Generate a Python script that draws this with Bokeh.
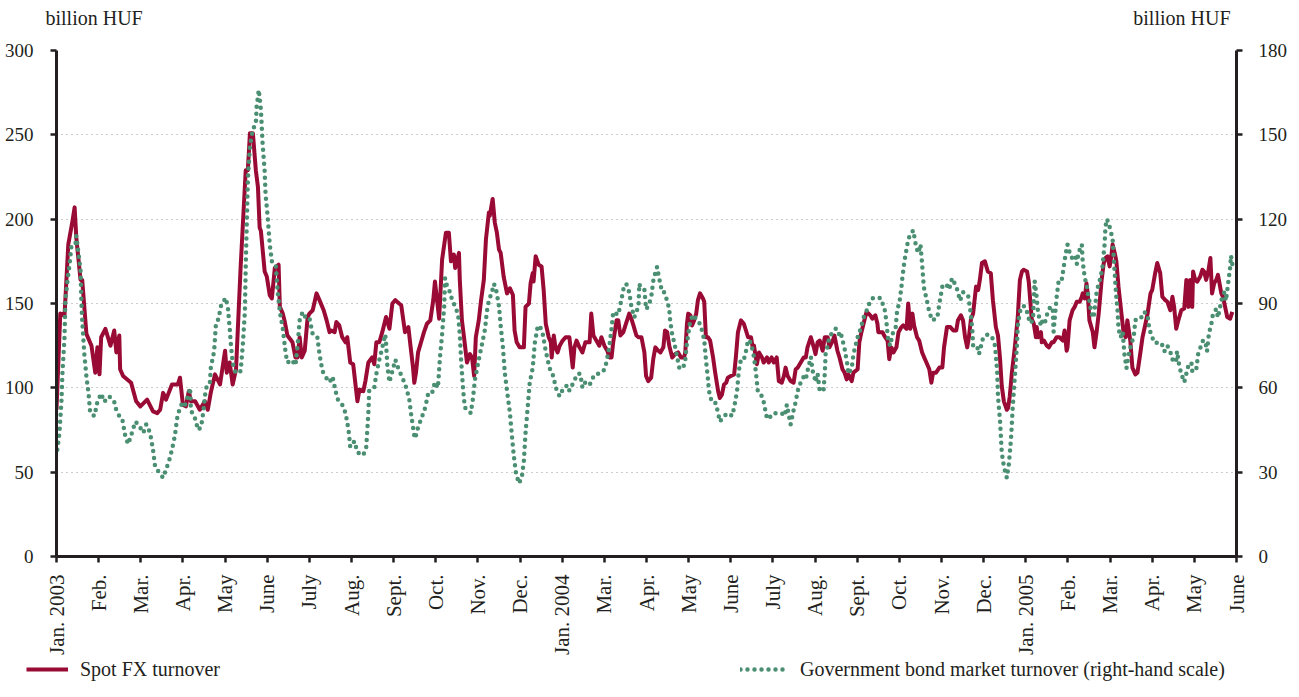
import math
from bokeh.plotting import figure
from bokeh.layouts import column
from bokeh.models import (Range1d, LinearAxis, FixedTicker, Legend, LegendItem, Label)
from bokeh.embed import file_html
from bokeh.resources import INLINE

# x positions are in months since the start of January 2003 (tick i = i-th month label)
month_labels = ["Jan. 2003", "Feb.", "Mar.", "Apr.", "May", "June", "July", "Aug.", "Sept.",
                "Oct.", "Nov.", "Dec.", "Jan. 2004", "Mar.", "Apr.", "May", "June", "July",
                "Aug.", "Sept.", "Oct.", "Nov.", "Dec.", "Jan. 2005", "Feb.", "Mar.", "Apr.",
                "May", "June"]
left_ticks = [0, 50, 100, 150, 200, 250, 300]
right_ticks = [0, 30, 60, 90, 120, 150, 180]
unit_text = "billion HUF"
fx_name = "Spot FX turnover"
bond_name = "Government bond market turnover (right-hand scale)"

fx_month = [0.00, 0.09, 0.19, 0.28, 0.38, 0.43, 0.47, 0.57, 0.61, 0.71, 0.83, 0.92, 0.97, 1.02, 1.06, 1.16,
            1.28, 1.37, 1.42, 1.49, 1.51, 1.58, 1.77, 1.89, 1.99, 2.15, 2.29, 2.39, 2.46, 2.53, 2.60, 2.74,
            2.88, 2.93, 3.00, 3.07, 3.14, 3.19, 3.29, 3.40, 3.52, 3.59, 3.66, 3.76, 3.88, 4.00, 4.04, 4.11,
            4.18, 4.26, 4.37, 4.49, 4.54, 4.59, 4.66, 4.73, 4.78, 4.82, 4.85, 4.94, 4.99, 5.06, 5.11, 5.18,
            5.27, 5.30, 5.37, 5.41, 5.48, 5.60, 5.67, 5.72, 5.77, 5.82, 5.89, 5.96, 6.00, 6.08, 6.17, 6.24,
            6.34, 6.41, 6.48, 6.52, 6.60, 6.64, 6.71, 6.78, 6.86, 6.90, 6.97, 7.04, 7.14, 7.19, 7.28, 7.33,
            7.40, 7.49, 7.54, 7.59, 7.66, 7.73, 7.82, 7.90, 7.97, 8.04, 8.13, 8.18, 8.27, 8.35, 8.39, 8.46,
            8.49, 8.53, 8.58, 8.65, 8.72, 8.79, 8.87, 8.94, 8.98, 9.03, 9.08, 9.15, 9.24, 9.31, 9.36, 9.43,
            9.46, 9.55, 9.57, 9.62, 9.67, 9.74, 9.81, 9.86, 9.91, 9.95, 10.02, 10.07, 10.14, 10.19, 10.26,
            10.28, 10.35, 10.40, 10.45, 10.50, 10.54, 10.61, 10.69, 10.76, 10.83, 10.87, 10.92, 10.99,
            11.09, 11.13, 11.21, 11.25, 11.30, 11.32, 11.37, 11.44, 11.51, 11.56, 11.61, 11.68, 11.73,
            11.75, 11.80, 11.84, 11.89, 11.94, 12.01, 12.08, 12.17, 12.25, 12.29, 12.34, 12.41, 12.48,
            12.55, 12.65, 12.69, 12.74, 12.81, 12.88, 12.93, 13.00, 13.07, 13.12, 13.17, 13.21, 13.29,
            13.33, 13.38, 13.45, 13.50, 13.59, 13.64, 13.69, 13.76, 13.81, 13.88, 13.95, 13.99, 14.04,
            14.11, 14.16, 14.21, 14.28, 14.33, 14.40, 14.44, 14.49, 14.54, 14.61, 14.68, 14.75, 14.82,
            14.89, 14.92, 14.96, 14.99, 15.04, 15.08, 15.13, 15.18, 15.22, 15.27, 15.34, 15.37, 15.41,
            15.46, 15.51, 15.58, 15.63, 15.70, 15.74, 15.79, 15.84, 15.89, 15.93, 16.00, 16.08, 16.12,
            16.17, 16.24, 16.31, 16.36, 16.41, 16.48, 16.52, 16.55, 16.62, 16.67, 16.74, 16.78, 16.86,
            16.90, 16.97, 17.02, 17.09, 17.14, 17.21, 17.26, 17.30, 17.35, 17.42, 17.49, 17.54, 17.59,
            17.66, 17.73, 17.78, 17.82, 17.90, 17.97, 18.01, 18.06, 18.11, 18.18, 18.23, 18.30, 18.34,
            18.42, 18.46, 18.53, 18.58, 18.65, 18.70, 18.75, 18.79, 18.87, 18.91, 19.01, 19.05, 19.10,
            19.15, 19.22, 19.27, 19.31, 19.36, 19.43, 19.48, 19.50, 19.60, 19.64, 19.72, 19.76, 19.81,
            19.86, 19.93, 19.98, 20.05, 20.09, 20.17, 20.21, 20.26, 20.31, 20.35, 20.42, 20.47, 20.54,
            20.59, 20.66, 20.71, 20.76, 20.80, 20.87, 20.95, 21.02, 21.06, 21.13, 21.21, 21.28, 21.35,
            21.39, 21.46, 21.51, 21.56, 21.61, 21.65, 21.70, 21.75, 21.82, 21.87, 21.91, 21.96, 22.03,
            22.10, 22.17, 22.22, 22.29, 22.34, 22.39, 22.43, 22.48, 22.55, 22.58, 22.62, 22.67, 22.74,
            22.81, 22.86, 22.91, 22.95, 23.03, 23.07, 23.14, 23.19, 23.24, 23.26, 23.29, 23.36, 23.38,
            23.43, 23.50, 23.55, 23.62, 23.66, 23.73, 23.80, 23.88, 23.92, 23.97, 23.99, 24.04, 24.11,
            24.16, 24.21, 24.28, 24.33, 24.35, 24.40, 24.44, 24.47, 24.51, 24.59, 24.63, 24.68, 24.73,
            24.80, 24.85, 24.89, 24.94, 24.99, 25.03, 25.06, 25.11, 25.15, 25.20, 25.27, 25.32, 25.37,
            25.41, 25.48, 25.53, 25.60, 25.65, 25.72, 25.77, 25.84, 25.89, 25.96, 26.00, 26.07, 26.12,
            26.19, 26.24, 26.31, 26.36, 26.43, 26.48, 26.52, 26.57, 26.62, 26.69, 26.76, 26.81, 26.86,
            26.90, 26.95, 26.97, 27.02, 27.07, 27.14, 27.19, 27.23, 27.28, 27.33, 27.38, 27.42, 27.47,
            27.52, 27.56, 27.64, 27.68, 27.73, 27.78, 27.85, 27.90]
fx_value = [87, 144, 143, 185, 199, 207, 189, 164, 164, 132, 125, 109, 124, 108, 130, 135,
            125, 134, 121, 131, 111, 107, 103, 92, 89, 93, 86, 85, 87, 97, 93, 102,
            102, 106, 90, 89, 98, 92, 92, 87, 92, 87, 97, 108, 102, 122, 109, 115,
            102, 111, 172, 229, 229, 251, 251, 229, 219, 195, 193, 169, 166, 155, 153, 171,
            173, 148, 144, 140, 131, 127, 118, 118, 130, 118, 122, 142, 144, 146, 156, 152,
            146, 140, 133, 134, 133, 139, 137, 130, 127, 130, 115, 114, 92, 99, 98, 104,
            115, 118, 114, 127, 127, 133, 142, 135, 150, 152, 150, 149, 133, 136, 127, 112,
            103, 109, 121, 127, 133, 138, 140, 152, 163, 152, 141, 176, 192, 192, 175, 179,
            171, 180, 164, 140, 130, 115, 120, 118, 107, 130, 140, 151, 164, 188, 204,
            202, 212, 198, 192, 182, 180, 166, 156, 159, 155, 134, 127, 124,
            124, 148, 150, 162, 168, 163, 178, 173, 172, 158, 138, 130, 127,
            118, 131, 124, 121, 125, 128, 130, 130, 112, 124, 128, 124, 121,
            127, 127, 144, 131, 128, 125, 130, 125, 122, 118, 118, 127, 140,
            140, 131, 133, 137, 144, 141, 137, 131, 130, 130, 121, 107, 104,
            106, 117, 124, 122, 121, 124, 134, 133, 125, 118, 120, 121, 118,
            118, 121, 138, 144, 143, 137, 140, 144, 152, 156, 153, 151, 130,
            130, 128, 118, 109, 98, 94, 96, 102, 103, 106, 107, 108, 118,
            133, 140, 138, 134, 130, 130, 124, 125, 114, 121, 118, 115, 118,
            115, 118, 115, 118, 104, 103, 107, 112, 107, 104, 103, 111, 112,
            115, 118, 118, 124, 130, 124, 120, 127, 128, 122, 130, 130, 124,
            128, 131, 122, 118, 111, 109, 105, 108, 104, 109, 111, 127, 133,
            138, 145, 144, 143, 141, 143, 138, 133, 133, 131, 128, 117, 124,
            121, 124, 133, 136, 137, 135, 150, 135, 144, 137, 130, 128, 121,
            118, 114, 111, 103, 109, 109, 112, 112, 124, 136, 136, 134, 134,
            140, 143, 140, 130, 124, 130, 141, 144, 160, 158, 164, 174, 175,
            169, 168, 152, 136, 131, 117, 101, 92, 87, 88, 95, 109, 124,
            142, 164, 169, 170, 169, 163, 141, 138, 130, 136, 130, 133, 127,
            128, 125, 124, 127, 127, 130, 130, 128, 134, 122, 124, 140, 146,
            148, 151, 151, 154, 156, 153, 162, 156, 140, 133, 124, 133, 144,
            164, 174, 177, 178, 172, 178, 185, 180, 175, 160, 144, 133, 130,
            140, 128, 112, 108, 109, 121, 130, 138, 144, 156, 158, 168, 174,
            168, 154, 152, 151, 146, 154, 148, 135, 140, 146, 147, 164, 148,
            164, 148, 169, 164, 163, 166, 170, 169, 164, 169, 177, 156, 162,
            164, 167, 156, 154, 148, 142, 141, 145]

bond_month = [0.02, 0.07, 0.12, 0.14, 0.19, 0.21, 0.26, 0.31, 0.35, 0.40, 0.45, 0.47, 0.52, 0.57, 0.59,
              0.61, 0.66, 0.71, 0.76, 0.80, 0.90, 0.97, 1.06, 1.13, 1.25, 1.37, 1.42, 1.49, 1.56, 1.63,
              1.70, 1.77, 1.87, 1.94, 2.06, 2.13, 2.22, 2.29, 2.34, 2.43, 2.53, 2.60, 2.67, 2.74, 2.81,
              2.86, 2.93, 3.00, 3.05, 3.12, 3.17, 3.19, 3.29, 3.36, 3.43, 3.48, 3.52, 3.57, 3.64, 3.66,
              3.74, 3.78, 3.85, 3.90, 3.97, 4.02, 4.07, 4.11, 4.14, 4.18, 4.23, 4.30, 4.37, 4.42, 4.47,
              4.49, 4.54, 4.59, 4.66, 4.73, 4.75, 4.80, 4.85, 4.89, 4.94, 4.96, 5.01, 5.06, 5.11, 5.20,
              5.25, 5.30, 5.37, 5.44, 5.48, 5.58, 5.67, 5.72, 5.77, 5.84, 5.91, 6.00, 6.08, 6.19, 6.24,
              6.31, 6.38, 6.48, 6.55, 6.62, 6.67, 6.78, 6.86, 6.93, 6.97, 7.07, 7.14, 7.28, 7.35, 7.40,
              7.42, 7.54, 7.59, 7.66, 7.71, 7.80, 7.82, 7.85, 7.90, 7.97, 8.04, 8.13, 8.20, 8.30, 8.37,
              8.42, 8.49, 8.51, 8.58, 8.68, 8.75, 8.82, 8.91, 8.98, 9.05, 9.10, 9.15, 9.20, 9.22, 9.27,
              9.34, 9.39, 9.46, 9.53, 9.57, 9.60, 9.65, 9.69, 9.83, 9.88, 9.93, 10.02, 10.09, 10.17,
              10.21, 10.26, 10.33, 10.38, 10.43, 10.50, 10.54, 10.59, 10.64, 10.69, 10.76, 10.80, 10.85,
              10.90, 10.97, 11.04, 11.09, 11.13, 11.18, 11.23, 11.30, 11.35, 11.42, 11.47, 11.54, 11.61,
              11.70, 11.77, 11.87, 11.94, 12.03, 12.13, 12.17, 12.27, 12.36, 12.43, 12.48, 12.55, 12.65,
              12.74, 12.79, 12.88, 12.98, 13.05, 13.12, 13.17, 13.21, 13.33, 13.40, 13.45, 13.52, 13.59,
              13.64, 13.71, 13.81, 13.83, 13.85, 13.95, 13.99, 14.04, 14.11, 14.16, 14.21, 14.25, 14.30,
              14.37, 14.42, 14.49, 14.54, 14.56, 14.61, 14.66, 14.70, 14.78, 14.87, 14.92, 14.96, 14.99,
              15.04, 15.11, 15.15, 15.22, 15.29, 15.37, 15.41, 15.46, 15.48, 15.53, 15.60, 15.65, 15.70,
              15.74, 15.84, 15.93, 16.03, 16.08, 16.15, 16.19, 16.24, 16.31, 16.36, 16.41, 16.48, 16.55,
              16.60, 16.64, 16.71, 16.78, 16.86, 16.90, 17.00, 17.12, 17.21, 17.28, 17.33, 17.38, 17.42,
              17.49, 17.54, 17.59, 17.66, 17.73, 17.78, 17.82, 17.90, 17.94, 17.97, 18.01, 18.06, 18.11,
              18.20, 18.23, 18.25, 18.30, 18.34, 18.42, 18.49, 18.56, 18.60, 18.65, 18.70, 18.77, 18.79,
              18.87, 18.91, 19.01, 19.08, 19.15, 19.24, 19.31, 19.38, 19.48, 19.55, 19.60, 19.64, 19.69,
              19.72, 19.74, 19.79, 19.83, 19.91, 19.95, 20.00, 20.05, 20.07, 20.12, 20.19, 20.24, 20.33,
              20.40, 20.45, 20.50, 20.54, 20.57, 20.59, 20.64, 20.71, 20.78, 20.90, 20.95, 21.02, 21.11,
              21.18, 21.25, 21.35, 21.39, 21.44, 21.51, 21.63, 21.68, 21.73, 21.75, 21.84, 21.89, 21.94,
              21.99, 22.10, 22.20, 22.27, 22.32, 22.34, 22.39, 22.43, 22.48, 22.55, 22.60, 22.65, 22.69,
              22.74, 22.79, 22.81, 22.86, 22.91, 22.98, 23.03, 23.10, 23.17, 23.19, 23.21, 23.26, 23.29,
              23.36, 23.40, 23.45, 23.52, 23.59, 23.64, 23.66, 23.73, 23.78, 23.85, 23.90, 23.95, 23.99,
              24.06, 24.11, 24.18, 24.21, 24.25, 24.33, 24.35, 24.40, 24.44, 24.47, 24.51, 24.54, 24.59,
              24.61, 24.66, 24.68, 24.73, 24.77, 24.82, 24.85, 24.87, 24.89, 24.92, 24.96, 25.01, 25.06,
              25.08, 25.11, 25.13, 25.15, 25.18, 25.20, 25.25, 25.30, 25.32, 25.34, 25.37, 25.39, 25.41,
              25.46, 25.51, 25.56, 25.60, 25.65, 25.74, 25.81, 25.89, 25.93, 26.00, 26.05, 26.12, 26.22,
              26.29, 26.36, 26.45, 26.50, 26.57, 26.59, 26.64, 26.69, 26.76, 26.81, 26.86, 26.93, 26.95,
              27.04, 27.09, 27.16, 27.21, 27.28, 27.30, 27.35, 27.40, 27.42, 27.47, 27.52, 27.56, 27.64,
              27.66, 27.71, 27.75, 27.80, 27.85, 27.87, 27.90]
bond_value = [38, 44, 56, 65, 78, 91, 98, 104, 110, 110, 111, 114, 108, 102, 91,
              84, 72, 64, 58, 51, 50, 55, 58, 55, 57, 55, 52, 50, 49, 43,
              40, 43, 48, 47, 44, 47, 44, 38, 32, 30, 28, 31, 34, 38, 43,
              49, 53, 55, 54, 57, 60, 52, 49, 45, 46, 51, 57, 61, 62, 67,
              73, 82, 85, 89, 91, 92, 88, 81, 75, 69, 66, 65, 66, 75, 87,
              103, 134, 146, 152, 154, 160, 166, 159, 147, 137, 129, 121, 111, 105, 104,
              94, 87, 81, 72, 69, 70, 68, 75, 84, 87, 85, 85, 79, 78, 72,
              66, 64, 62, 64, 59, 56, 54, 51, 45, 39, 41, 37, 36, 39, 51,
              59, 60, 65, 70, 73, 79, 76, 68, 62, 66, 70, 66, 64, 60, 56,
              50, 43, 42, 46, 50, 53, 58, 58, 62, 60, 71, 79, 89, 99, 96,
              94, 91, 89, 86, 79, 70, 59, 53, 51, 56, 63, 70, 75, 81,
              87, 91, 94, 97, 95, 89, 82, 75, 65, 59, 51, 44, 36,
              30, 26, 28, 34, 44, 53, 62, 67, 76, 82, 82, 79, 73,
              67, 65, 59, 57, 60, 61, 59, 62, 65, 65, 60, 62, 61,
              64, 65, 65, 66, 69, 75, 81, 87, 86, 91, 95, 97, 94,
              89, 85, 89, 97, 96, 95, 88, 89, 92, 98, 101, 103, 99,
              94, 94, 91, 88, 84, 79, 76, 73, 67, 67, 70, 76, 79,
              84, 86, 85, 84, 82, 77, 70, 63, 59, 56, 56, 54, 51,
              48, 50, 51, 50, 53, 59, 66, 70, 70, 73, 77, 76, 71,
              65, 59, 58, 55, 49, 49, 51, 51, 51, 50, 54, 50, 47,
              52, 55, 59, 62, 64, 63, 66, 71, 66, 65, 62, 65, 59,
              59, 65, 72, 75, 78, 80, 81, 79, 80, 77, 74, 68, 65,
              67, 72, 78, 81, 85, 88, 91, 92, 92, 92, 90, 89, 84,
              79, 76, 75, 79, 81, 88, 90, 96, 99, 105, 111, 114, 116,
              110, 108, 111, 104, 98, 95, 92, 87, 84, 85, 90, 96, 97,
              95, 99, 96, 94, 91, 94, 93, 88, 81, 75, 75, 72, 75,
              78, 79, 78, 75, 66, 57, 48, 37, 32, 28, 33, 42, 53,
              64, 75, 82, 87, 89, 89, 87, 83, 84, 91, 98, 92, 87,
              82, 84, 83, 87, 89, 88, 80, 92, 98, 98, 103, 108, 111,
              107, 106, 107, 104, 108, 111, 105, 99, 97, 94, 91, 88, 85,
              85, 91, 94, 97, 99, 103, 108, 111, 117, 120, 119, 116, 113,
              108, 101, 96, 92, 87, 81, 78, 80, 76, 72, 69, 67, 69,
              73, 76, 78, 84, 85, 85, 87, 86, 81, 78, 76, 76, 76,
              73, 75, 72, 69, 70, 73, 68, 65, 62, 65, 68, 69, 66,
              66, 72, 75, 77, 75, 73, 80, 82, 85, 87, 88, 85, 91,
              92, 94, 91, 97, 103, 107, 104]

RED = "#990a35"
GREEN = "#4a8f72"
INK = "#231f20"
FONT = "Liberation Serif"
RED_STYLE = dict(line_color=RED, line_width=4, line_join="round")
GREEN_STYLE = dict(line_color=GREEN, line_width=4.5, line_dash="0 7", line_cap="round")

W = 1290
HEAD_H = 40
TOP = 10
FRAME_H = 507
BOTTOM = 100
LEG_H = 24
LEFT, RIGHT = 56, 52
XMAX, YMAX, Y2MAX = 28, 300, 180


def bare(fig):
    fig.xgrid.visible = False
    fig.ygrid.visible = False
    fig.outline_line_color = None
    fig.min_border = 0
    fig.min_border_left = 0
    fig.min_border_right = 0
    fig.min_border_top = 0
    fig.min_border_bottom = 0
    if "frame_align" in fig.properties():
        fig.frame_align = False
    return fig


# header with unit captions
head = bare(figure(width=W, height=HEAD_H, x_range=Range1d(0, W), y_range=Range1d(0, HEAD_H),
                   x_axis_location=None, y_axis_location=None,
                   output_backend="svg", toolbar_location=None))
head.add_layout(Label(x=45, y=HEAD_H - 17, text=unit_text, text_font=FONT, text_font_size="20px",
                      text_color=INK, text_baseline="middle", text_align="left"))
head.add_layout(Label(x=1230, y=HEAD_H - 17, text=unit_text, text_font=FONT, text_font_size="20px",
                      text_color=INK, text_baseline="middle", text_align="right"))

# main chart
p = figure(width=W, height=TOP + FRAME_H + BOTTOM, x_range=Range1d(0, XMAX), y_range=Range1d(0, YMAX),
           output_backend="svg", toolbar_location=None,
           min_border_left=LEFT, min_border_right=RIGHT, min_border_top=TOP, min_border_bottom=BOTTOM)
p.extra_y_ranges = {"right": Range1d(0, Y2MAX)}
p.outline_line_color = None

p.line(fx_month, fx_value, **RED_STYLE)
p.line(bond_month, bond_value, y_range_name="right", **GREEN_STYLE)

p.xgrid.visible = False
p.ygrid.ticker = FixedTicker(ticks=left_ticks)
p.ygrid.grid_line_color = "#9a9a9a"
p.ygrid.grid_line_dash = "1 4"
p.ygrid.grid_line_width = 1


def style_axis(ax, size):
    ax.axis_line_color = INK
    ax.axis_line_width = 3
    ax.major_tick_line_color = INK
    ax.major_tick_line_width = 2.5
    ax.major_tick_in = 0
    ax.major_tick_out = 6
    ax.minor_tick_line_color = None
    ax.major_label_text_font = FONT
    ax.major_label_text_font_size = size
    ax.major_label_text_color = INK


xa = p.xaxis[0]
style_axis(xa, "21px")
xa.ticker = FixedTicker(ticks=list(range(len(month_labels))))
xa.major_label_overrides = {i: lab for i, lab in enumerate(month_labels)}
xa.major_label_orientation = math.pi / 2
xa.major_label_standoff = 12

ya = p.yaxis[0]
style_axis(ya, "19px")
ya.ticker = FixedTicker(ticks=left_ticks)
ya.major_label_standoff = 17

ya2 = LinearAxis(y_range_name="right", ticker=FixedTicker(ticks=right_ticks))
style_axis(ya2, "19px")
ya2.major_label_standoff = 16
p.add_layout(ya2, "right")

# legend strip (proxy renderers carry only the legend styling)
leg_fig = bare(figure(width=W, height=LEG_H, x_range=Range1d(0, W), y_range=Range1d(0, LEG_H),
                      x_axis_location=None, y_axis_location=None,
                      output_backend="svg", toolbar_location=None))
r1 = leg_fig.line([math.nan], [math.nan], **RED_STYLE)
r2 = leg_fig.line([math.nan], [math.nan], **GREEN_STYLE)
for renderer, label, lx, gw in [(r1, fx_name, 26, 42), (r2, bond_name, 740, 48)]:
    leg = Legend(items=[LegendItem(label=label, renderers=[renderer])], location=(lx, 0))
    leg.border_line_color = None
    leg.background_fill_alpha = 0
    leg.padding = 0
    leg.margin = 0
    leg.spacing = 0
    leg.glyph_width = gw
    leg.glyph_height = LEG_H
    leg.label_height = LEG_H
    leg.label_standoff = 12
    leg.label_text_font = FONT
    leg.label_text_font_size = "20px"
    leg.label_text_color = INK
    leg.label_text_baseline = "middle"
    leg_fig.add_layout(leg, "center")

layout = column(head, p, leg_fig, spacing=0)
open("out.html", "w").write(file_html(layout, INLINE))
